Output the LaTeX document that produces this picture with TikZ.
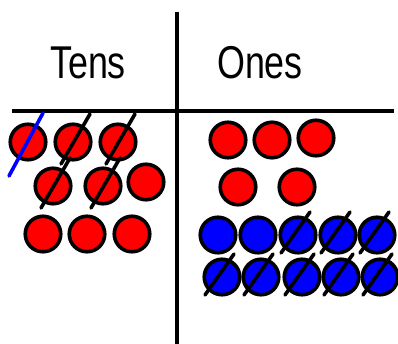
\documentclass[tikz,border=0pt]{standalone}
\usepackage{fontspec}
\setmainfont{Liberation Sans}
\usetikzlibrary{calc}
\definecolor{cRed}{RGB}{255,0,0}
\definecolor{cBlue}{RGB}{0,0,255}

\tikzset{
  counter/.style={circle, draw=black, line width=3.6pt, minimum size=35.5pt, inner sep=0pt},
  redc/.style={counter, fill=cRed},
  bluec/.style={counter, fill=cBlue},
  heading/.style={font=\fontsize{46}{50}\selectfont, anchor=base, xscale=0.78, transform shape},
  slash/.style={line width=3.6pt, line cap=round}
}

\begin{document}
\begin{tikzpicture}[x=1pt, y=-1pt]
        \useasboundingbox (0,0) rectangle (398,344);
        % place value grid
        \coordinate (vtop) at (177,12);
        \coordinate (vbot) at (177,346);
        \coordinate (hl) at (12,111);
        \coordinate (hr) at (394,111);
        \draw[line width=4pt] (vtop) -- (vbot);
        \draw[line width=4pt] (hl) -- (hr);
        \node[heading] (tens) at (88,79) {Tens};
        \node[heading] (ones) at (260,79) {Ones};
        % tens column
        \node[redc] (t1) at (28,142) {};
        \node[redc] (t2) at (73,142) {};
        \node[redc] (t3) at (118,142) {};
        \node[redc] (t4) at (53,186) {};
        \node[redc] (t5) at (103,186) {};
        \node[redc] (t6) at (146,182) {};
        \node[redc] (t7) at (43,234) {};
        \node[redc] (t8) at (87,234) {};
        \node[redc] (t9) at (132,234) {};
        % ones column
        \node[redc] (o1) at (228,140) {};
        \node[redc] (o2) at (272,140) {};
        \node[redc] (o3) at (316,138) {};
        \node[redc] (o4) at (238,187) {};
        \node[redc] (o5) at (297,187) {};
        \foreach \i/\x in {1/218,2/258,3/298,4/338,5/377}
          \node[bluec] (b\i) at (\x,235) {};
        \foreach \i/\x in {6/222,7/261,8/302,9/341,10/380}
          \node[bluec] (b\i) at (\x,277) {};
        % crossings out
        \draw[slash, cBlue] ($(t1)+(15,-29)$) -- ($(t1)+(-19,34)$);
        \foreach \n in {t2,t3,t4,t5}
          \draw[slash] ($(\n)+(17,-28)$) -- ($(\n)+(-12,22)$);
        \foreach \n in {b3,b4,b5,b6,b7,b8,b9,b10}
          \draw[slash] ($(\n)+(12,-23)$) -- ($(\n)+(-17,18)$);
\end{tikzpicture}
\end{document}
